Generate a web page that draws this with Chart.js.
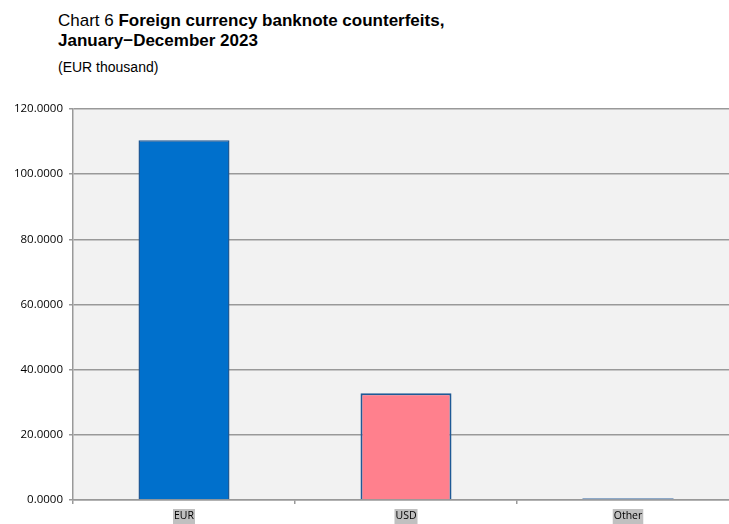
<!DOCTYPE html>
<html>
<head>
<meta charset="utf-8">
<script src="https://cdn.jsdelivr.net/npm/chart.js@4/dist/chart.umd.min.js"></script>
<style>
  html, body { margin: 0; width: 729px; height: 524px; overflow: hidden; background: #fff; }
  body { position: relative; }
  #title { position: absolute; left: 58px; top: 11px; font-family: "Liberation Sans", Arial, sans-serif; font-size: 17px; line-height: 19.5px; color: #000; white-space: nowrap; }
  #unit { position: absolute; left: 58px; top: 59px; font-family: "Liberation Sans", Arial, sans-serif; font-size: 14px; color: #000; }
  #wrap { position: absolute; left: 0; top: 95px; width: 729px; height: 429px; overflow: hidden; }
  #myChart { display: block; }
</style>
</head>
<body>
<div id="title">Chart 6 <b>Foreign currency banknote counterfeits,<br>January−December 2023</b></div>
<div id="unit">(EUR thousand)</div>
<div id="wrap"><canvas id="myChart" width="745" height="429"></canvas></div>
<script>
var categorias = ['EUR', 'USD', 'Other'];
var valores = [110.4, 32.8, 0.6];
var colores = ['#0070CC', '#FF808D', '#8EA9C8'];
var bordes = ['#1F5A96', '#1F5A96', '#8EA9C8'];
var anchoBorde = [1.5, 2, 0];

// fondo gris del area del grafico
var fondoPlugin = {
    id: 'fondo',
    beforeDraw: function (chart) {
        var a = chart.chartArea;
        var ctx = chart.ctx;
        ctx.save();
        ctx.fillStyle = '#F2F2F2';
        ctx.fillRect(a.left, a.top, a.right - a.left, a.bottom - a.top);
        ctx.restore();
    }
};

var ctx = document.getElementById('myChart').getContext('2d');
var myChart = new Chart(ctx, {
    type: 'bar',
    data: {
        labels: categorias,
        datasets: [{
            data: valores,
            backgroundColor: colores,
            borderColor: bordes,
            borderWidth: anchoBorde,
            categoryPercentage: 1,
            barPercentage: 0.41
        }]
    },
    options: {
        // lienzo mas ancho que la ventana: el area sigue mas alla del borde derecho
        responsive: false,
        animation: false,
        devicePixelRatio: 1,
        layout: { padding: { top: 14, right: 6, left: 0, bottom: 0 } },
        plugins: { legend: { display: false }, tooltip: { enabled: false } },
        scales: {
            y: {
                min: 0,
                max: 120,
                afterFit: function (s) { s.width = 73; },
                ticks: {
                    stepSize: 20,
                    padding: 6,
                    color: '#000',
                    font: { family: 'Open Sans', size: 11.5 },
                    callback: function (v) { return v.toFixed(4); }
                },
                grid: { color: '#999999', lineWidth: 1.5, tickLength: 4 },
                border: { color: '#999999', width: 1.5 }
            },
            x: {
                afterFit: function (s) { s.height = 24; },
                ticks: {
                    padding: 6,
                    color: '#000',
                    font: { family: 'Open Sans', size: 10.5 },
                    showLabelBackdrop: true,
                    backdropColor: '#C0C0C0',
                    backdropPadding: { top: 1, bottom: 2, left: 1, right: 1 }
                },
                grid: { offset: true, drawOnChartArea: false, color: '#999999', lineWidth: 1.5, tickLength: 4 },
                border: { color: '#999999', width: 1.5 }
            }
        }
    },
    plugins: [fondoPlugin]
});
</script>
</body>
</html>
